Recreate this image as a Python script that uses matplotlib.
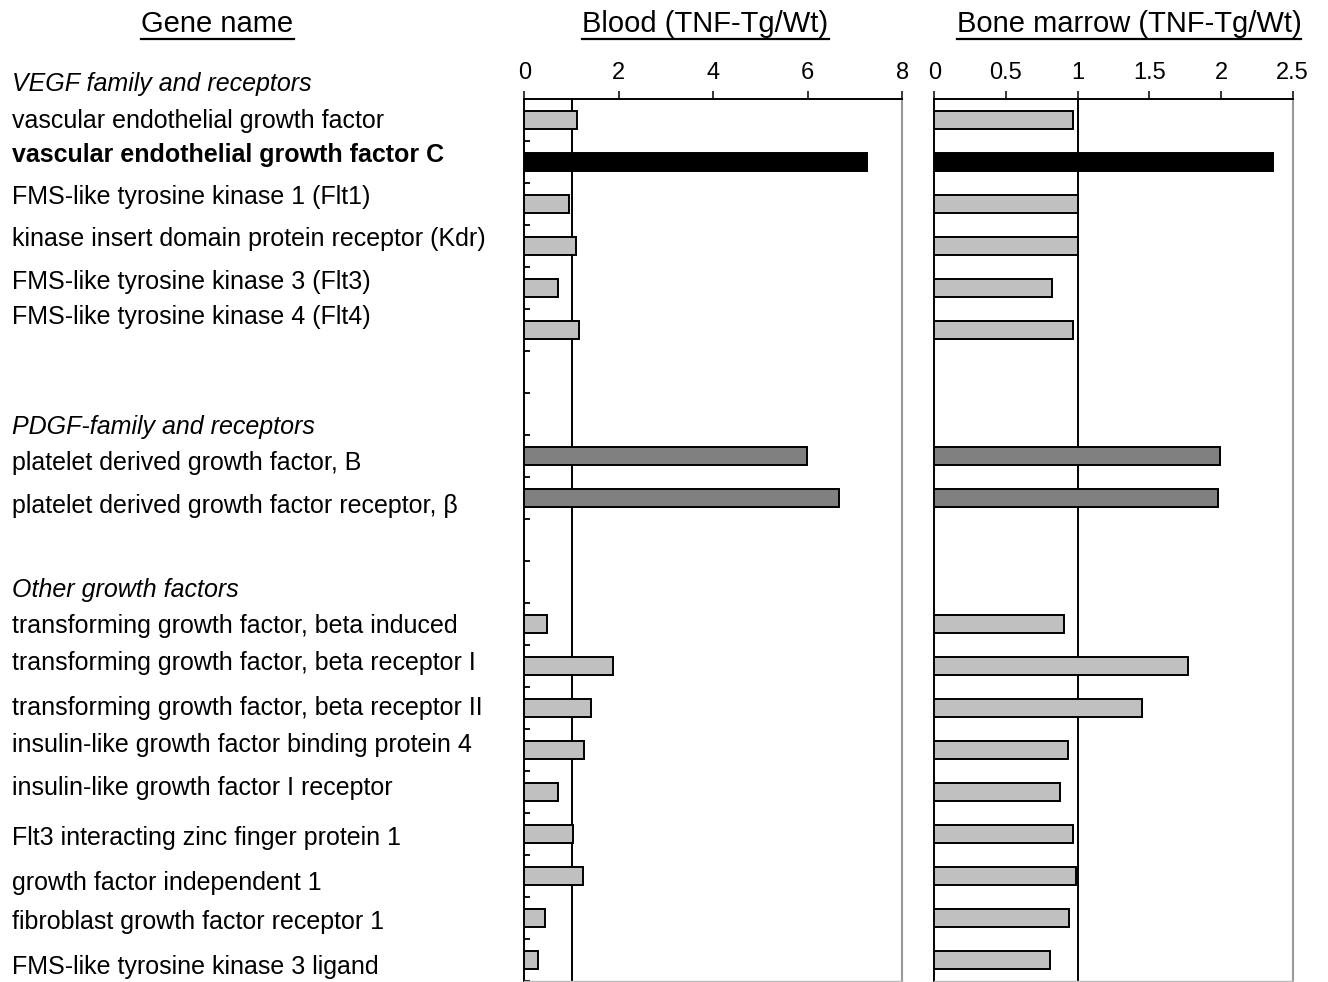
import matplotlib
matplotlib.use("Agg")
import matplotlib.pyplot as plt
from matplotlib.lines import Line2D
import numpy as np

plt.rcParams['font.family'] = ['Liberation Sans', 'DejaVu Sans']

# ---------------- data ----------------
group_names = ["VEGF family and receptors", "PDGF-family and receptors", "Other growth factors"]
vegf_genes = ["vascular endothelial growth factor",
              "vascular endothelial growth factor C",
              "FMS-like tyrosine kinase 1 (Flt1)",
              "kinase insert domain protein receptor (Kdr)",
              "FMS-like tyrosine kinase 3 (Flt3)",
              "FMS-like tyrosine kinase 4 (Flt4)"]
vegf_blood = [1.12, 7.25, 0.95, 1.09, 0.71, 1.15]
vegf_marrow = [0.97, 2.36, 1.00, 1.00, 0.82, 0.97]

pdgf_genes = ["platelet derived growth factor, B",
              "platelet derived growth factor receptor, \u03b2"]
pdgf_blood = [5.99, 6.65]
pdgf_marrow = [1.995, 1.98]

other_genes = ["transforming growth factor, beta induced",
               "transforming growth factor, beta receptor I",
               "transforming growth factor, beta receptor II",
               "insulin-like growth factor binding protein 4",
               "insulin-like growth factor I receptor",
               "Flt3 interacting zinc finger protein 1",
               "growth factor independent 1",
               "fibroblast growth factor receptor 1",
               "FMS-like tyrosine kinase 3 ligand"]
other_blood = [0.49, 1.87, 1.42, 1.27, 0.71, 1.04, 1.24, 0.43, 0.28]
other_marrow = [0.905, 1.77, 1.45, 0.93, 0.88, 0.97, 0.99, 0.94, 0.81]

highlight_gene = "vascular endothelial growth factor C"

blood_ticks = [0, 2, 4, 6, 8]
marrow_ticks = [0, 0.5, 1, 1.5, 2, 2.5]
blood_tick_labels = ["0", "2", "4", "6", "8"]
marrow_tick_labels = ["0", "0.5", "1", "1.5", "2", "2.5"]

# ---------------- layout ----------------
GAP = 2  # blank rows between groups
groups = [(vegf_genes, vegf_blood, vegf_marrow),
          (pdgf_genes, pdgf_blood, pdgf_marrow),
          (other_genes, other_blood, other_marrow)]

LIGHT = "#c0c0c0"
DARK = "#808080"
BLACK = "#000000"

rows, names, bvals, mvals, colors = [], [], [], [], []
r = 0
for gi, (gn, gb, gm) in enumerate(groups):
    if gi > 0:
        r += GAP
    for n, b, m in zip(gn, gb, gm):
        rows.append(r); names.append(n); bvals.append(b); mvals.append(m)
        if n == highlight_gene:
            colors.append(BLACK)
        elif gi == 1:
            colors.append(DARK)
        else:
            colors.append(LIGHT)
        r += 1
nrows = r

# label vertical nudges (row units) to mimic reference placement
label_nudge = [0.02, -0.17, -0.17, -0.17, -0.15, -0.32,
               0.16, 0.20,
               0.05, -0.06, 0.01, -0.11, -0.09, 0.10, 0.17, 0.10, 0.17]
header_pos = [-0.86, 7.32, 11.18]

fig = plt.figure(figsize=(13.28, 9.82), dpi=100)
W, H = 1328, 982

def fx(px):
    return px / W

def fy(py):
    return 1 - py / H

ax_top, ax_bot = 99, 981
axb = fig.add_axes([fx(524.3), fy(ax_bot), fx(902.3) - fx(524.3), fy(ax_top) - fy(ax_bot)])
axm = fig.add_axes([fx(934.3), fy(ax_bot), fx(1292.7) - fx(934.3), fy(ax_top) - fy(ax_bot)])

bar_h = 0.44
edge_lw = 1.4

for ax, vals, xlim, ticks, tlabels in [(axb, bvals, (0, 8), blood_ticks, blood_tick_labels),
                                        (axm, mvals, (0, 2.5), marrow_ticks, marrow_tick_labels)]:
    ax.axvline(1, color="black", lw=1.4, zorder=1)
    ax.barh(rows, vals, height=bar_h, color=colors, edgecolor="black",
            linewidth=edge_lw, zorder=3)
    ax.set_xlim(*xlim)
    ax.set_ylim(nrows - 0.5, -0.5)
    ax.xaxis.tick_top()
    ax.set_xticks(ticks)
    ax.set_xticklabels(tlabels, fontsize=17)
    ax.tick_params(axis="x", direction="out", length=5.5, width=1.1, pad=5, colors="black")
    ax.set_yticks([])
    for s in ["left", "top"]:
        ax.spines[s].set_color("black")
        ax.spines[s].set_linewidth(1.4)
    ax.spines["right"].set_color("#999999")
    ax.spines["right"].set_linewidth(1.5)
    ax.spines["bottom"].set_color("#bbbbbb")
    ax.spines["bottom"].set_linewidth(1.0)

# small inward ticks on blood axis at row boundaries
axb.set_yticks(np.arange(0.5, nrows, 1.0))
axb.set_yticklabels([])
axb.tick_params(axis="y", direction="in", length=4, width=1.3, left=True)

# gene labels
trans = matplotlib.transforms.blended_transform_factory(fig.transFigure, axb.transData)
for n, rr, nd in zip(names, rows, label_nudge):
    weight = "bold" if n == highlight_gene else "normal"
    axb.text(fx(12), rr + nd, n, transform=trans, fontsize=18, fontweight=weight,
             ha="left", va="center", clip_on=False)
for g, hp in zip(group_names, header_pos):
    axb.text(fx(12), hp, g, transform=trans, fontsize=18, style="italic",
             ha="left", va="center", clip_on=False)

# titles with underline
titles = [("Gene name", 217.5), ("Blood (TNF-Tg/Wt)", 705.5), ("Bone marrow (TNF-Tg/Wt)", 1129)]
fig.canvas.draw()
renderer = fig.canvas.get_renderer()
for t, cx in titles:
    txt = fig.text(fx(cx), fy(24), t, fontsize=21, ha="center", va="center")
    bb = txt.get_window_extent(renderer=renderer)
    fig.add_artist(Line2D([bb.x0 / W, bb.x1 / W], [fy(38.5), fy(38.5)],
                          transform=fig.transFigure, color="black", lw=1.6))

fig.savefig("out.png", dpi=100)
